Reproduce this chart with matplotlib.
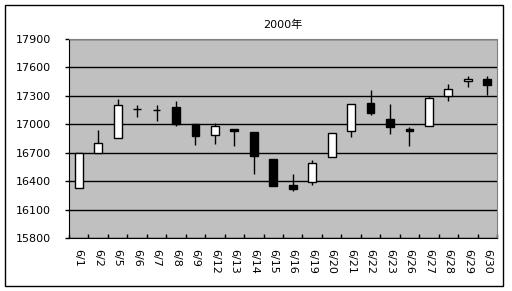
import numpy as np
import matplotlib
matplotlib.use('Agg')
import matplotlib.pyplot as plt
from matplotlib.patches import Rectangle

plt.rcParams['font.family'] = ['DejaVu Sans', 'Noto Sans CJK JP']

# trading days in June 2000
dates = ['6/1', '6/2', '6/5', '6/6', '6/7', '6/8', '6/9', '6/12', '6/13', '6/14', '6/15',
         '6/16', '6/19', '6/20', '6/21', '6/22', '6/23', '6/26', '6/27', '6/28', '6/29', '6/30']
opens  = [16328, 16700, 16855, 17160, 17147, 17182, 17003, 16883, 16953, 16922, 16637,
          16362, 16387, 16650, 16925, 17228, 17059, 16945, 16978, 17299, 17453, 17478]
highs  = [16700, 16943, 17270, 17207, 17207, 17249, 17003, 17014, 16953, 16922, 16637,
          16478, 16626, 16908, 17214, 17365, 17217, 16971, 17299, 17428, 17513, 17513]
lows   = [16328, 16700, 16855, 17073, 17030, 16985, 16785, 16795, 16774, 16478, 16345,
          16292, 16362, 16650, 16862, 17094, 16901, 16767, 16978, 17242, 17389, 17312]
closes = [16700, 16803, 17204, 17160, 17147, 17003, 16872, 16982, 16925, 16661, 16345,
          16320, 16591, 16908, 17214, 17115, 16967, 16930, 17277, 17372, 17478, 17418]
yticks = [15800, 16100, 16400, 16700, 17000, 17300, 17600, 17900]

W, H = 512, 291
fig = plt.figure(figsize=(W / 100, H / 100), dpi=100)

# outer chart frame
fig.patches.append(Rectangle((5 / W, 1 - 286 / H), 498 / W, 281 / H, transform=fig.transFigure,
                             fill=False, edgecolor='black', linewidth=1))

ax = fig.add_axes([69 / W, (H - 238) / H, 428 / W, 199 / H])
ax.set_facecolor('#c0c0c0')

x = np.arange(len(dates))
o = np.array(opens)
c = np.array(closes)

ax.vlines(x, lows, highs, color='black', linewidth=1, zorder=3)
bottoms = np.minimum(o, c)
heights = np.abs(c - o)
colors = ['white' if cc >= oo else 'black' for oo, cc in zip(o, c)]
ax.bar(x, heights, bottom=bottoms, width=0.4, color=colors, edgecolor='black',
       linewidth=1, zorder=4)

ax.set_xlim(-0.5, len(dates) - 0.5)
ax.set_ylim(15800, 17900)
ax.set_yticks(yticks)
ax.set_yticklabels([str(v) for v in yticks], fontsize=8)
ax.yaxis.grid(True, color='black', linewidth=1)
ax.set_axisbelow(True)
ax.tick_params(axis='y', direction='out', length=3, width=1, pad=10)

ax.set_xticks(x)
ax.set_xticklabels(dates, rotation=-90, fontsize=8, va='top', ha='center')
ax.set_xticks(np.arange(len(dates) + 1) - 0.5, minor=True)
ax.tick_params(axis='x', which='major', length=0, pad=8)
ax.tick_params(axis='x', which='minor', direction='in', length=3, width=1)

for s in ['top', 'right']:
    ax.spines[s].set_color('#808080')
for s in ['left', 'bottom']:
    ax.spines[s].set_color('black')

ax.set_title('2000年', fontsize=8, pad=8)

fig.savefig('out.png', dpi=100)
